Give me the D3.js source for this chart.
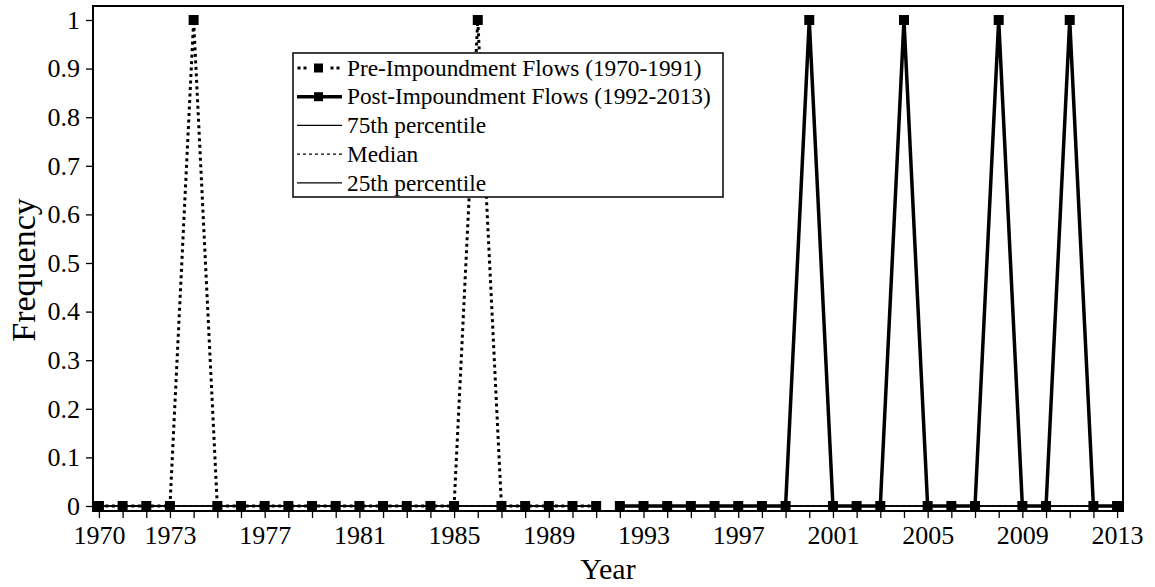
<!DOCTYPE html>
<html>
<head>
<meta charset="utf-8">
<script src="https://cdn.jsdelivr.net/npm/d3@7"></script>
<style>
  body { margin: 0; background: #fff; }
</style>
</head>
<body>
<div id="chart-area"></div>
<script>
// data
var preYears = d3.range(1970, 1992);
var preValues = [0, 0, 0, 0, 1, 0, 0, 0, 0, 0, 0, 0, 0, 0, 0, 0, 1, 0, 0, 0, 0, 0];
var postYears = d3.range(1992, 2014);
var postValues = [0, 0, 0, 0, 0, 0, 0, 0, 1, 0, 0, 0, 1, 0, 0, 0, 1, 0, 0, 1, 0, 0];
var percentileNames = ["75th percentile", "Median", "25th percentile"];
var prePercentiles = [0, 0, 0];
var postPercentiles = [0, 0, 0];
var xLabelYears = [1970, 1973, 1977, 1981, 1985, 1989, 1993, 1997, 2001, 2005, 2009, 2013];
var yTicks = d3.range(0, 11).map(d => d / 10);
var legendLabels = ["Pre-Impoundment Flows (1970-1991)", "Post-Impoundment Flows (1992-2013)"]
    .concat(percentileNames);

var serif = '"Liberation Serif", "Times New Roman", serif';
var W = 1155, H = 587;
var margin = { left: 93, right: 1123, top: 6, bottom: 511 };

var svg = d3.select("#chart-area")
    .append("svg")
    .attr("width", W)
    .attr("height", H)
    .style("font-family", serif);

var x = d3.scaleLinear()
    .domain([1969.75, 2013.25])
    .range([margin.left, margin.right]);

var y = d3.scaleLinear()
    .domain([-0.0103, 1.0288])
    .range([margin.bottom, margin.top]);

// axes
var xAxis = svg.append("g")
    .attr("transform", "translate(0," + margin.bottom + ")")
    .call(d3.axisBottom(x)
        .tickValues(d3.range(1970, 2014))
        .tickSize(7)
        .tickPadding(8)
        .tickFormat(d => xLabelYears.indexOf(d) >= 0 ? d : ""));
xAxis.select(".domain").remove();
xAxis.selectAll("line").attr("stroke-width", 1.3);
xAxis.selectAll("text").style("font-family", serif).style("font-size", "26px");

var yAxis = svg.append("g")
    .attr("transform", "translate(" + margin.left + ",0)")
    .call(d3.axisLeft(y)
        .tickValues(yTicks)
        .tickSize(7)
        .tickPadding(6)
        .tickFormat(d => +d.toFixed(1)));
yAxis.select(".domain").remove();
yAxis.selectAll("line").attr("stroke-width", 1.3);
yAxis.selectAll("text").style("font-family", serif).style("font-size", "26px");

// percentile lines for each period
var dashes = [null, "3,3", null];
function drawPercentiles(years, values) {
    values.forEach((v, i) => {
        svg.append("line")
            .attr("x1", x(years[0]))
            .attr("x2", x(years[years.length - 1]))
            .attr("y1", y(v))
            .attr("y2", y(v))
            .attr("stroke", "#000")
            .attr("stroke-width", 1.3)
            .attr("stroke-dasharray", dashes[i]);
    });
}
drawPercentiles(preYears, prePercentiles);
drawPercentiles(postYears, postPercentiles);

var line = d3.line()
    .x(d => x(d[0]))
    .y(d => y(d[1]));

var preData = d3.zip(preYears, preValues);
var postData = d3.zip(postYears, postValues);

svg.append("path")
    .datum(preData)
    .attr("d", line)
    .attr("fill", "none")
    .attr("stroke", "#000")
    .attr("stroke-width", 3)
    .attr("stroke-dasharray", "3,3.5");

svg.append("path")
    .datum(postData)
    .attr("d", line)
    .attr("fill", "none")
    .attr("stroke", "#000")
    .attr("stroke-width", 3.5);

var ms = 10;
svg.selectAll(".pre-marker")
    .data(preData)
    .enter()
    .append("rect")
    .attr("class", "pre-marker")
    .attr("x", d => x(d[0]) - ms / 2)
    .attr("y", d => y(d[1]) - ms / 2)
    .attr("width", ms)
    .attr("height", ms)
    .attr("fill", "#000");

svg.selectAll(".post-marker")
    .data(postData)
    .enter()
    .append("rect")
    .attr("class", "post-marker")
    .attr("x", d => x(d[0]) - ms / 2)
    .attr("y", d => y(d[1]) - ms / 2)
    .attr("width", ms)
    .attr("height", ms)
    .attr("fill", "#000");

// frame
svg.append("rect")
    .attr("x", margin.left)
    .attr("y", margin.top)
    .attr("width", margin.right - margin.left)
    .attr("height", margin.bottom - margin.top)
    .attr("fill", "none")
    .attr("stroke", "#000")
    .attr("stroke-width", 2);

// axis labels
svg.append("text")
    .attr("x", (margin.left + margin.right) / 2)
    .attr("y", 579)
    .attr("text-anchor", "middle")
    .style("font-size", "30px")
    .text("Year");

svg.append("text")
    .attr("transform", "translate(35,270) rotate(-90)")
    .attr("text-anchor", "middle")
    .style("font-size", "34px")
    .text("Frequency");

// legend
var lg = svg.append("g").attr("transform", "translate(293,53)");
lg.append("rect")
    .attr("width", 430)
    .attr("height", 144)
    .attr("fill", "#fff")
    .attr("stroke", "#000")
    .attr("stroke-width", 1.5);

var rowH = 28.7;
legendLabels.forEach((label, i) => {
    var cy = 15 + i * rowH;
    var row = lg.append("g").attr("transform", "translate(0," + cy + ")");
    if (i === 0) {
        [6, 12, 39, 45].forEach(dx => {
            row.append("rect").attr("x", dx - 1.5).attr("y", -1.5)
                .attr("width", 3).attr("height", 3).attr("fill", "#000");
        });
        row.append("rect").attr("x", 21).attr("y", -4.5).attr("width", 9).attr("height", 9).attr("fill", "#000");
    } else if (i === 1) {
        row.append("line").attr("x1", 4).attr("x2", 49).attr("y1", 0).attr("y2", 0)
            .attr("stroke", "#000").attr("stroke-width", 3.5);
        row.append("rect").attr("x", 21).attr("y", -4.5).attr("width", 9).attr("height", 9).attr("fill", "#000");
    } else {
        row.append("line").attr("x1", 4).attr("x2", 49).attr("y1", 0).attr("y2", 0)
            .attr("stroke", "#000").attr("stroke-width", 1.3)
            .attr("stroke-dasharray", dashes[i - 2]);
    }
    row.append("text")
        .attr("x", 54)
        .attr("y", 0)
        .attr("dy", "0.33em")
        .style("font-size", "23.3px")
        .text(label);
});
</script>
</body>
</html>
